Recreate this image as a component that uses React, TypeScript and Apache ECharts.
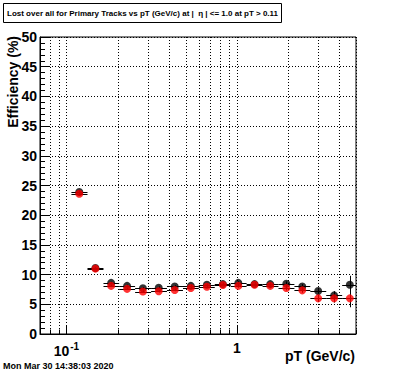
import React, { useEffect, useRef } from 'react';
import * as echarts from 'echarts';

// pT bins (GeV/c)
const binLow = [0.107, 0.133, 0.165, 0.204, 0.253, 0.314, 0.389, 0.483, 0.598, 0.742, 0.920, 1.141, 1.415, 1.754, 2.176, 2.698, 3.345, 4.148];
const binHigh = [0.133, 0.165, 0.204, 0.253, 0.314, 0.389, 0.483, 0.598, 0.742, 0.920, 1.141, 1.415, 1.754, 2.176, 2.698, 3.345, 4.148, 5.143];
const ptCenters = [0.119, 0.148, 0.183, 0.227, 0.281, 0.348, 0.432, 0.537, 0.667, 0.828, 1.02, 1.27, 1.57, 1.95, 2.42, 3.0, 3.72, 4.6];

// Efficiency (%) — black histogram
const blackValues = [23.9, 11.1, 8.6, 8.1, 7.7, 7.8, 8.0, 8.1, 8.3, 8.4, 8.6, 8.4, 8.4, 8.45, 8.0, 7.25, 6.5, 8.3];
const blackErrors = [0.3, 0.2, 0.2, 0.2, 0.2, 0.2, 0.2, 0.2, 0.2, 0.2, 0.3, 0.3, 0.3, 0.4, 0.4, 0.5, 0.7, 1.5];
// Efficiency (%) — red histogram
const redValues = [23.6, 11.0, 8.1, 7.6, 7.15, 7.2, 7.4, 7.75, 7.95, 8.25, 8.1, 8.3, 8.1, 7.75, 7.35, 6.0, 6.0, 6.0];
const redErrors = [0.3, 0.2, 0.2, 0.2, 0.2, 0.2, 0.2, 0.2, 0.2, 0.2, 0.3, 0.3, 0.3, 0.4, 0.4, 0.5, 0.7, 1.5];

// axis ticks
const xTickValues = [0.08, 0.09, 0.1, 0.2, 0.3, 0.4, 0.5, 0.6, 0.7, 0.8, 0.9, 1, 2, 3, 4, 5];
const xMajorTicks = [0.1, 1];

const titleText = 'Lost over all for Primary Tracks vs pT (GeV/c) at |  \u03b7 | <= 1.0 at pT > 0.11';
const yTitle = 'Efficiency (%)';
const xTitle = 'pT (GeV/c)';
const dateText = 'Mon Mar 30 14:38:03 2020';

const FONT = '"Liberation Sans", Arial, Helvetica, sans-serif';

function errorRender(params: any, api: any) {
  const c = api.value(0);
  const v = api.value(1);
  const lo = api.value(2);
  const hi = api.value(3);
  const e = api.value(4);
  const cs = params.coordSys;
  const p = api.coord([c, v]);
  const pl = api.coord([lo, v]);
  const ph = api.coord([hi, v]);
  const pt = api.coord([c, v + e]);
  const pb = api.coord([c, v - e]);
  const y = Math.round(p[1]) + 0.5;
  const x = Math.round(p[0]) + 0.5;
  const x1 = Math.max(pl[0], cs.x);
  const x2 = Math.min(ph[0], cs.x + cs.width);
  return {
    type: 'group',
    children: [
      { type: 'line', shape: { x1, y1: y, x2, y2: y }, style: { stroke: '#000', lineWidth: 1 } },
      { type: 'line', shape: { x1: x, y1: pt[1], x2: x, y2: pb[1] }, style: { stroke: '#000', lineWidth: 1 } },
    ],
  };
}

export default function App() {
  const ref = useRef<HTMLDivElement>(null);
  useEffect(() => {
    if (!ref.current) return;
    const chart = echarts.init(ref.current, null, { renderer: 'svg' });
    const blackErr = ptCenters.map((c, i) => [c, blackValues[i], binLow[i], binHigh[i], blackErrors[i]]);
    const redErr = ptCenters.map((c, i) => [c, redValues[i], binLow[i], binHigh[i], redErrors[i]]);
    const blackPts = ptCenters.map((c, i) => [c, blackValues[i]]);
    const redPts = ptCenters.map((c, i) => [c, redValues[i]]);
    const tickData = xTickValues.map((v) => [v, 0, xMajorTicks.includes(v) ? 1 : 0]);

    chart.setOption({
      animation: false,
      backgroundColor: '#fff',
      grid: {
        left: 40, right: 40, top: 37, bottom: 38,
        show: true, borderColor: '#000', borderWidth: 1, backgroundColor: '#fff',
      },
      xAxis: {
        type: 'log', logBase: 10, min: 0.07, max: 5,
        axisLine: { show: true, onZero: false, lineStyle: { color: '#000', width: 1 } },
        axisTick: { show: false },
        splitLine: { show: false },
        minorTick: { show: false },
        minorSplitLine: { show: false },
        axisLabel: {
          margin: 7,
          color: '#000',
          formatter: (v: number) => {
            const l = Math.log10(v);
            const r = Math.round(l);
            if (Math.abs(l - r) > 1e-6) return '';
            if (r === 0) return '{b|1}';
            return '{b|10}{s|' + r + '}';
          },
          rich: {
            b: { fontSize: 14, fontWeight: 'bold', fontFamily: FONT, color: '#000' },
            s: { fontSize: 10, fontWeight: 'bold', fontFamily: FONT, color: '#000', padding: [0, 0, 9, 1] },
          },
        },
      },
      yAxis: {
        type: 'value', min: 0, max: 50, interval: 5,
        axisLine: { show: true, lineStyle: { color: '#000', width: 1 } },
        axisTick: { show: true, inside: true, length: 9, lineStyle: { color: '#000' } },
        minorTick: { show: true, splitNumber: 5, length: 5, lineStyle: { color: '#000' } },
        splitLine: { show: true, lineStyle: { color: '#000', width: 1, type: [1, 2] } },
        axisLabel: { color: '#000', fontSize: 14, fontWeight: 'bold', fontFamily: FONT, margin: 3 },
      },
      series: [
        {
          type: 'custom',
          silent: true,
          data: tickData,
          encode: { x: 0, y: 1 },
          renderItem: (params: any, api: any) => {
            const v = api.value(0);
            const major = api.value(2) === 1;
            const top = api.coord([v, 50]);
            const bot = api.coord([v, 0]);
            const x = Math.round(top[0]) + 0.5;
            return {
              type: 'group',
              children: [
                { type: 'line', shape: { x1: x, y1: top[1], x2: x, y2: bot[1] }, style: { stroke: '#000', lineWidth: 1, lineDash: [1, 2] } },
                { type: 'line', shape: { x1: x, y1: bot[1], x2: x, y2: bot[1] - (major ? 9 : 4.5) }, style: { stroke: '#000', lineWidth: 1 } },
              ],
            };
          },
        },
        { type: 'custom', silent: true, data: blackErr, encode: { x: 0, y: 1 }, renderItem: errorRender },
        {
          type: 'scatter', data: blackPts, symbol: 'circle', symbolSize: 8,
          itemStyle: { color: '#000' }, silent: true,
        },
        { type: 'custom', silent: true, data: redErr, encode: { x: 0, y: 1 }, renderItem: errorRender },
        {
          type: 'scatter', data: redPts, symbol: 'circle', symbolSize: 8,
          itemStyle: { color: '#ff0000' }, silent: true,
        },
      ],
      graphic: [
        {
          type: 'rect', shape: { x: 3.5, y: 3.5, width: 278, height: 19 },
          style: { fill: '#fff', stroke: '#000', lineWidth: 1 }, z: 100,
        },
        {
          type: 'text', x: 7, y: 13.5, z: 101,
          style: { text: titleText, font: 'bold 8px ' + FONT, fill: '#000', textAlign: 'left', verticalAlign: 'middle' },
        },
        {
          type: 'text', x: 13, y: 36, rotation: Math.PI / 2, z: 101,
          style: { text: yTitle, font: 'bold 14px ' + FONT, fill: '#000', textAlign: 'right', verticalAlign: 'middle' },
        },
        {
          type: 'text', x: 355, y: 356, z: 101,
          style: { text: xTitle, font: 'bold 14px ' + FONT, fill: '#000', textAlign: 'right', verticalAlign: 'middle' },
        },
        {
          type: 'text', x: 3, y: 366, z: 101,
          style: { text: dateText, font: 'bold 9px ' + FONT, fill: '#000', textAlign: 'left', verticalAlign: 'middle' },
        },
      ],
    });
    return () => chart.dispose();
  }, []);
  return <div ref={ref} style={{ position: 'absolute', left: 0, top: 0, width: 396, height: 372 }} />;
}
